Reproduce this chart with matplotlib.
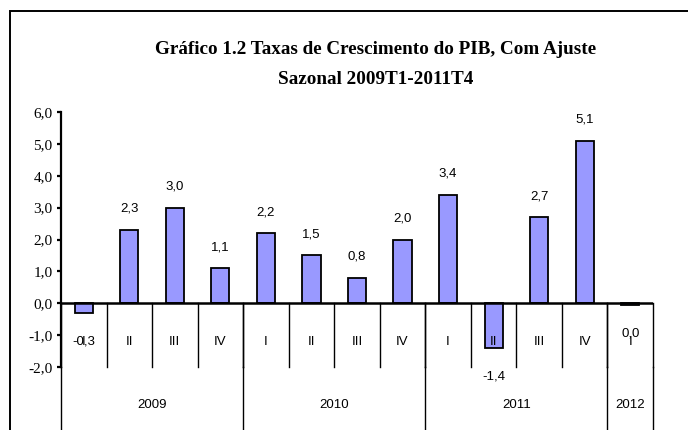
import matplotlib.pyplot as plt
import matplotlib.transforms as mtransforms
from matplotlib.patches import Rectangle

# quarterly GDP growth, seasonally adjusted (%)
quarters = ["I", "II", "III", "IV", "I", "II", "III", "IV", "I", "II", "III", "IV", "I"]
years = ["2009", "2010", "2011", "2012"]
year_sizes = [4, 4, 4, 1]
growth = [-0.3, 2.3, 3.0, 1.1, 2.2, 1.5, 0.8, 2.0, 3.4, -1.4, 2.7, 5.1, -0.04]
yticks = [-2, -1, 0, 1, 2, 3, 4, 5, 6]

BAR_COLOR = "#9999ff"
SANS = ["Liberation Sans Narrow", "Liberation Sans"]


def fmt(v):
    s = f"{v:.1f}".replace(".", ",")
    return "0,0" if s == "-0,0" else s


fig = plt.figure(figsize=(6.88, 4.30), dpi=100)
ax = fig.add_axes([61 / 688, (430 - 367) / 430, (653 - 61) / 688, 255 / 430])

x = list(range(len(growth)))
ax.bar(x, growth, width=0.4, color=BAR_COLOR, edgecolor="black", linewidth=1.3, zorder=3)

for xi, v in zip(x, growth):
    off = 21 if v > 0 else -29
    ax.annotate(fmt(v), (xi, v), xytext=(0, off), textcoords="offset pixels",
                ha="center", va="center", fontsize=9.5, family=SANS, zorder=5)

ax.set_xlim(-0.5, len(growth) - 0.5)
ax.set_ylim(-2, 6)
ax.set_yticks(yticks)
ax.set_yticklabels([f"{t:.1f}".replace(".", ",") for t in yticks],
                   family="Liberation Serif", fontsize=11)
ax.tick_params(axis="y", direction="out", length=3, width=1.6, pad=3)
ax.set_xticks([])

for side in ["top", "right", "bottom"]:
    ax.spines[side].set_visible(False)
ax.spines["left"].set_linewidth(1.6)
ax.axhline(0, color="black", linewidth=1.8, zorder=4)

# category grid below the zero line
trans = mtransforms.blended_transform_factory(ax.transData, ax.transAxes)
for b in range(1, len(growth)):
    ax.plot([b - 0.5, b - 0.5], [0, -2], color="black", linewidth=1.0, clip_on=False, zorder=2)

edge = -0.5
bounds = [edge]
for n in year_sizes:
    edge += n
    bounds.append(edge)
for b in bounds:
    ax.plot([b, b], [0, -0.35], transform=trans, color="black", linewidth=1.0, clip_on=False)
    ax.plot([b, b], [0, -2], color="black", linewidth=1.0, clip_on=False)

for xi, q in zip(x, quarters):
    ax.text(xi, -1.23, q, ha="center", va="center", fontsize=9.5, family=SANS, clip_on=False)

for lo, hi, yr in zip(bounds[:-1], bounds[1:], years):
    ax.text((lo + hi) / 2, -3.2, yr, ha="center", va="center", fontsize=9.5, family=SANS, clip_on=False)

fig.text(376 / 688, 1 - 50 / 430, "Gráfico 1.2 Taxas de Crescimento do PIB, Com Ajuste",
         ha="center", va="center", fontsize=13.8, fontweight="bold", family="Liberation Serif")
fig.text(376 / 688, 1 - 80 / 430, "Sazonal 2009T1-2011T4",
         ha="center", va="center", fontsize=13.8, fontweight="bold", family="Liberation Serif")

fig.patches.append(Rectangle((10 / 688, -0.1), 1.1, 1.1 - 11 / 430, transform=fig.transFigure,
                             fill=False, edgecolor="black", linewidth=1.4, clip_on=False))

fig.savefig("out.png", dpi=100)
